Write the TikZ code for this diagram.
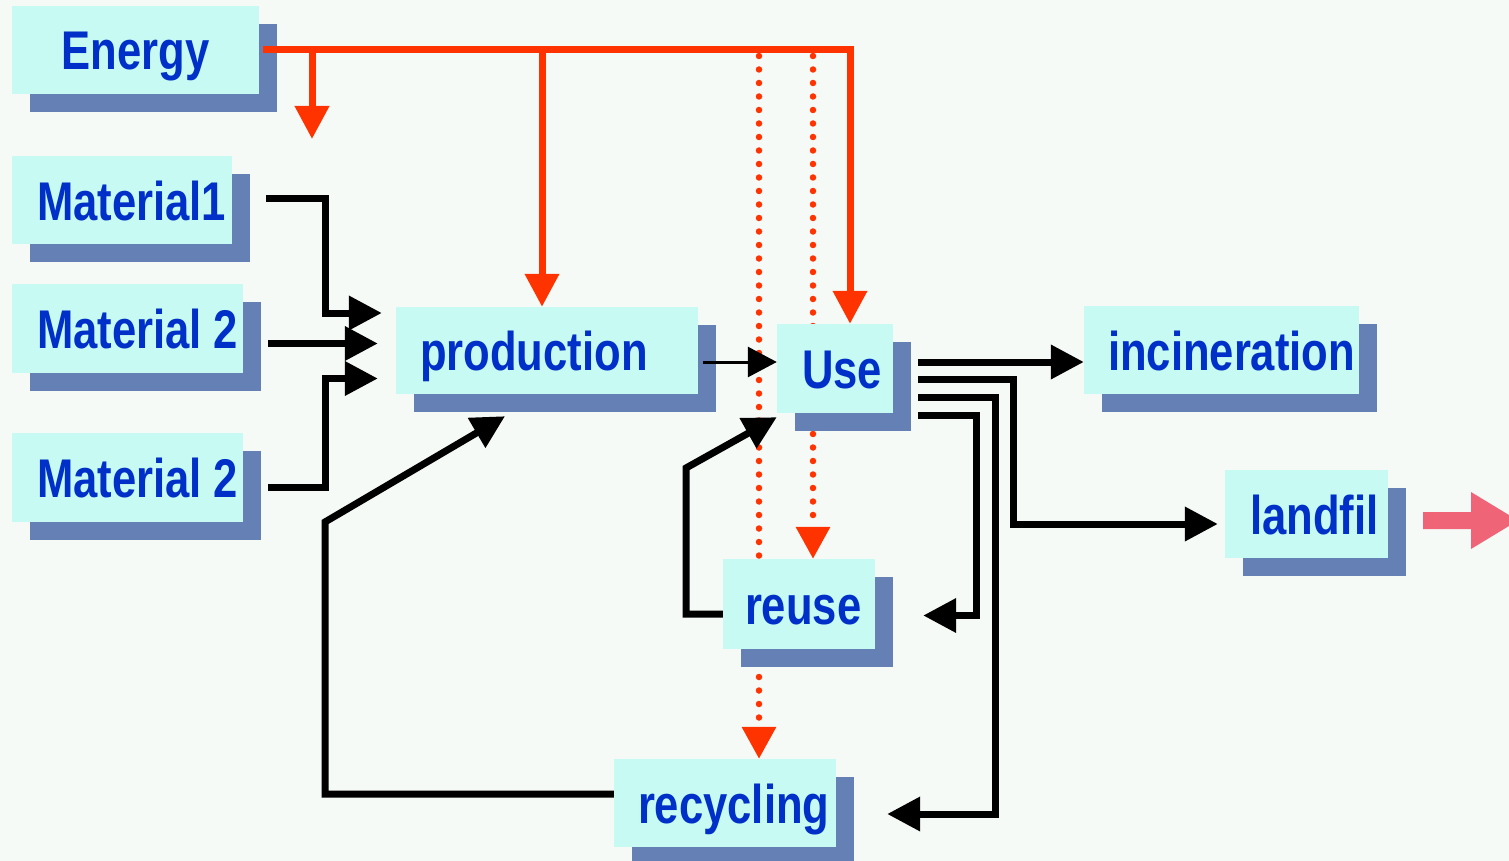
\documentclass[tikz,border=0pt]{standalone}
\usepackage{fontspec}
\newfontfamily\lblfont{Liberation Sans}[FakeStretch=0.8]
\usetikzlibrary{arrows.meta,shadows}
\definecolor{bgc}{RGB}{246,250,247}
\definecolor{cyanf}{RGB}{198,250,242}
\definecolor{shadowc}{RGB}{100,128,180}
\definecolor{txtblue}{RGB}{0,48,200}
\definecolor{redc}{RGB}{255,51,0}
\definecolor{pinkc}{RGB}{240,100,120}
\pgfdeclarelayer{bg}
\pgfdeclarelayer{back}
\pgfsetlayers{bg,back,main}
\begin{document}
\begin{tikzpicture}[x=1pt,y=-1pt,
  box/.style={rectangle, fill=cyanf, inner sep=0pt, text height=40pt, text depth=0pt,
    font=\lblfont\bfseries\fontsize{54.5pt}{60pt}\selectfont, text=txtblue,
    general shadow={fill=shadowc, opacity=1, shadow xshift=18pt, shadow yshift=-18pt}},
  redarrow/.style={draw=redc, line width=7pt, -{Triangle[length=33pt,width=33pt]}},
  dotarrow/.style={draw=redc, line width=6.5pt, line cap=round, dash pattern=on 0pt off 13.5pt,
    -{Triangle[length=32pt,width=33pt]}},
  blkline/.style={draw=black, line width=7pt},
  blkarrow/.style={blkline, -{Triangle[length=33pt,width=33pt]}}]
\useasboundingbox (0,0) rectangle (1509,861);
\begin{pgfonlayer}{bg}
\fill[bgc] (0,0) rectangle (1509,861);
\end{pgfonlayer}

% boxes
\node[box, minimum width=247pt, minimum height=88pt] (energy) at (135.5,50) {\makebox[247pt]{Energy}};
\node[box, minimum width=220pt, minimum height=88pt] (mat1) at (122,200) {\makebox[220pt][l]{\hspace*{25pt}Material1}};
\node[box, minimum width=231pt, minimum height=89pt] (mat2a) at (127.5,328.5) {\makebox[231pt][l]{\hspace*{25pt}Material 2}};
\node[box, minimum width=231pt, minimum height=89pt] (mat2b) at (127.5,477.5) {\makebox[231pt][l]{\hspace*{25pt}Material 2}};
\node[box, minimum width=302pt, minimum height=87pt] (prod) at (547,350.5) {\makebox[302pt][l]{\hspace*{24pt}production}};
\node[box, minimum width=116pt, minimum height=89pt] (use) at (835,368.5) {\makebox[116pt][l]{\hspace*{25pt}Use}};
\node[box, minimum width=152pt, minimum height=90pt] (reuse) at (799,604) {\makebox[152pt][l]{\hspace*{22pt}reuse}};
\node[box, minimum width=222pt, minimum height=88pt] (recyc) at (725,803) {\makebox[222pt][l]{\hspace*{24pt}recycling}};
\node[box, minimum width=275pt, minimum height=88pt] (incin) at (1221.5,350) {\makebox[275pt][l]{\hspace*{24pt}incineration}};
\node[box, minimum width=163pt, minimum height=88pt] (landfil) at (1306.5,514) {\makebox[163pt][l]{\hspace*{25pt}landfil}};

% dotted energy lines (behind boxes)
\begin{pgfonlayer}{back}
\draw[dotarrow] ([xshift=34pt]recyc.north |- energy.east) ++(0,6) -- ([xshift=34pt]recyc.north);
\draw[dotarrow] ([xshift=14pt]reuse.north |- energy.east) ++(0,6) -- ([xshift=14pt]reuse.north);
\end{pgfonlayer}

% energy lines
\draw[redarrow] ([xshift=4pt]energy.east) -| ([xshift=15pt]use.north);
\coordinate (edrop) at (312,139);
\draw[redarrow] (edrop |- energy.east) -- (edrop);
\draw[redarrow] ([xshift=-5pt]prod.north |- energy.east) -- ([xshift=-5pt]prod.north);

% materials to production
\draw[blkarrow, shorten >=14pt] ([xshift=34pt,yshift=1pt]mat1.east) -- (325,199) |- ([yshift=37.5pt]prod.west);
\draw[blkarrow, shorten >=18pt] ([xshift=25pt,yshift=-15pt]mat2a.east) -- ([yshift=-15pt]mat2a.east -| prod.west);
\draw[blkarrow, shorten >=18pt] ([xshift=25pt,yshift=-10pt]mat2b.east) -- (325,487.5) |- ([yshift=-28pt]prod.west);

% recycling back to production
\draw[blkarrow] ([yshift=9pt]recyc.west) -- (325,794) -- (325,522) -- ([xshift=-42pt,yshift=-22pt]prod.south);

% production to use
\draw[draw=black, line width=3pt, -{Triangle[length=29pt,width=30pt]}] ([xshift=5pt,yshift=-11.5pt]prod.east) -- ([yshift=6.5pt]use.west);

% reuse back to use
\draw[blkarrow] ([yshift=-10pt]reuse.west) -- (686,614) -- (686,468) -- ([yshift=-4pt]use.south west);

% use outputs
\draw[blkarrow] ([xshift=25pt,yshift=6.5pt]use.east) -- ([yshift=-12pt]incin.west);
\draw[blkarrow] ([xshift=25pt,yshift=-10.5pt]use.east) -- (1013,379) |- ([xshift=-7pt,yshift=-10pt]landfil.west);
\draw[blkarrow] ([xshift=25pt,yshift=-28.5pt]use.east) -- (995,397) |- ([xshift=51pt,yshift=-11pt]recyc.east);
\draw[blkarrow] ([xshift=25pt,yshift=-46.5pt]use.east) -- (976,415) |- ([xshift=48pt,yshift=-11.5pt]reuse.east);

% outgoing block arrow
\fill[pinkc] (1423,512) -- (1471,512) -- (1471,492) -- (1518,520.5) -- (1471,549) -- (1471,529) -- (1423,529) -- cycle;
\end{tikzpicture}
\end{document}
